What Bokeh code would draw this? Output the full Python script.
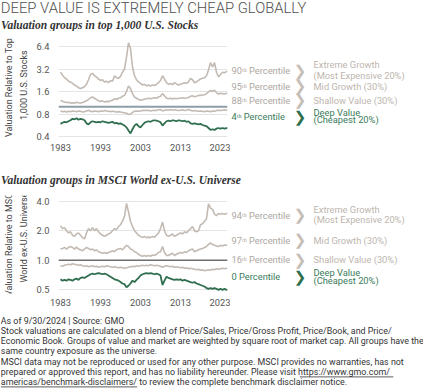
import math
from bokeh.plotting import figure
from bokeh.models import Label, FixedTicker, PrintfTickFormatter, Span, Range1d
from bokeh.layouts import column, row
from bokeh.embed import file_html
from bokeh.resources import INLINE

# ---------------- data ----------------
years = [1983 + 0.5 * i for i in range(84)] + [2024.75]

us_extreme_growth = [
    2.9, 2.65, 2.45, 2.35, 2.2, 2.15, 2.05, 1.95, 1.9, 1.8,
    1.75, 1.8, 1.85, 2.0, 2.3, 2.7, 2.8, 2.6, 2.5, 2.35,
    2.25, 2.3, 2.15, 2.2, 2.1, 2.25, 2.2, 2.6, 2.45, 2.4,
    2.55, 2.9, 3.2, 4.6, 7.2, 6.0, 3.4, 2.6, 2.3, 2.15,
    2.05, 1.95, 2.0, 1.9, 1.95, 1.9, 1.95, 1.92, 2.0, 2.1,
    2.25, 2.6, 2.35, 2.1, 2.0, 2.05, 1.98, 2.1, 2.02, 1.95,
    2.0, 2.05, 2.1, 2.05, 2.15, 2.4, 2.3, 2.1, 2.15, 2.25,
    2.35, 2.4, 2.45, 2.6, 3.1, 3.9, 3.4, 3.9, 2.9, 2.5,
    2.7, 2.9, 2.85, 2.95, 3.0]
us_mid_growth = [
    1.22, 1.18, 1.16, 1.14, 1.15, 1.12, 1.13, 1.12, 1.15, 1.13,
    1.12, 1.14, 1.17, 1.2, 1.25, 1.32, 1.35, 1.3, 1.25, 1.2,
    1.18, 1.2, 1.16, 1.18, 1.17, 1.2, 1.22, 1.28, 1.25, 1.3,
    1.32, 1.38, 1.42, 1.6, 1.9, 1.75, 1.5, 1.35, 1.3, 1.25,
    1.22, 1.24, 1.26, 1.28, 1.3, 1.28, 1.3, 1.32, 1.3, 1.35,
    1.38, 1.5, 1.4, 1.3, 1.28, 1.3, 1.27, 1.3, 1.28, 1.3,
    1.3, 1.32, 1.3, 1.31, 1.33, 1.38, 1.4, 1.36, 1.38, 1.42,
    1.42, 1.44, 1.45, 1.5, 1.58, 1.65, 1.6, 1.66, 1.55, 1.48,
    1.52, 1.5, 1.48, 1.52, 1.5]
us_shallow_value = [
    0.88, 0.86, 0.87, 0.85, 0.87, 0.86, 0.88, 0.87, 0.86, 0.88,
    0.87, 0.85, 0.86, 0.88, 0.9, 0.87, 0.86, 0.88, 0.87, 0.86,
    0.88, 0.87, 0.89, 0.88, 0.87, 0.86, 0.88, 0.86, 0.85, 0.86,
    0.85, 0.84, 0.83, 0.82, 0.79, 0.8, 0.84, 0.87, 0.88, 0.87,
    0.88, 0.89, 0.9, 0.89, 0.9, 0.88, 0.89, 0.9, 0.89, 0.91,
    0.92, 0.88, 0.9, 0.91, 0.9, 0.92, 0.9, 0.91, 0.9, 0.89,
    0.9, 0.91, 0.89, 0.9, 0.92, 0.9, 0.88, 0.89, 0.88, 0.87,
    0.88, 0.87, 0.86, 0.88, 0.87, 0.86, 0.88, 0.87, 0.89, 0.9,
    0.89, 0.9, 0.91, 0.9, 0.9]
us_deep_value = [
    0.59, 0.61, 0.63, 0.62, 0.64, 0.66, 0.69, 0.68, 0.7, 0.67,
    0.69, 0.68, 0.66, 0.6, 0.58, 0.62, 0.64, 0.63, 0.62, 0.63,
    0.62, 0.64, 0.63, 0.62, 0.61, 0.62, 0.63, 0.6, 0.61, 0.59,
    0.6, 0.58, 0.56, 0.53, 0.48, 0.44, 0.5, 0.56, 0.59, 0.55,
    0.53, 0.57, 0.61, 0.63, 0.64, 0.63, 0.65, 0.66, 0.65, 0.64,
    0.62, 0.56, 0.6, 0.64, 0.65, 0.64, 0.66, 0.65, 0.64, 0.66,
    0.65, 0.64, 0.65, 0.63, 0.64, 0.6, 0.59, 0.6, 0.59, 0.58,
    0.59, 0.57, 0.56, 0.55, 0.52, 0.49, 0.5, 0.49, 0.51, 0.52,
    0.51, 0.52, 0.51, 0.52, 0.51]

intl_extreme_growth = [
    2.25, 2.1, 2.15, 2.0, 1.9, 1.95, 1.8, 1.75, 1.85, 1.9,
    1.8, 1.7, 1.65, 1.9, 2.1, 2.0, 2.15, 2.0, 2.1, 1.95,
    1.85, 1.8, 1.75, 1.8, 1.85, 1.9, 2.0, 2.1, 2.05, 2.2,
    2.3, 2.5, 2.8, 3.8, 3.1, 2.5, 2.2, 2.0, 1.9, 1.8,
    1.75, 1.7, 1.75, 1.7, 1.72, 1.7, 1.75, 1.72, 1.8, 1.9,
    2.1, 2.45, 2.0, 1.8, 1.75, 1.8, 1.85, 1.75, 1.8, 1.85,
    1.9, 1.85, 1.95, 1.9, 2.0, 2.1, 2.2, 2.0, 1.95, 2.0,
    2.3, 2.35, 2.5, 2.65, 3.75, 3.4, 3.3, 2.95, 2.85, 3.0,
    2.95, 3.0, 2.95, 3.0, 3.0]
intl_mid_growth = [
    1.3, 1.32, 1.35, 1.3, 1.35, 1.38, 1.35, 1.3, 1.36, 1.3,
    1.28, 1.25, 1.3, 1.35, 1.32, 1.28, 1.3, 1.25, 1.28, 1.22,
    1.2, 1.18, 1.2, 1.17, 1.2, 1.22, 1.25, 1.22, 1.28, 1.3,
    1.32, 1.28, 1.35, 1.42, 1.38, 1.3, 1.28, 1.22, 1.2, 1.15,
    1.12, 1.1, 1.12, 1.1, 1.12, 1.1, 1.13, 1.12, 1.15, 1.2,
    1.22, 1.38, 1.2, 1.12, 1.12, 1.15, 1.18, 1.12, 1.15, 1.18,
    1.2, 1.18, 1.22, 1.2, 1.25, 1.28, 1.3, 1.22, 1.25, 1.28,
    1.3, 1.32, 1.35, 1.38, 1.45, 1.5, 1.45, 1.42, 1.4, 1.38,
    1.42, 1.4, 1.43, 1.42, 1.42]
intl_shallow_value = [
    0.88, 0.87, 0.89, 0.9, 0.91, 0.9, 0.92, 0.91, 0.9, 0.89,
    0.9, 0.88, 0.87, 0.88, 0.86, 0.87, 0.88, 0.86, 0.87, 0.85,
    0.86, 0.87, 0.86, 0.88, 0.87, 0.86, 0.85, 0.86, 0.85, 0.84,
    0.85, 0.84, 0.83, 0.84, 0.85, 0.86, 0.87, 0.86, 0.88, 0.87,
    0.88, 0.89, 0.88, 0.89, 0.88, 0.9, 0.89, 0.88, 0.89, 0.88,
    0.87, 0.85, 0.87, 0.88, 0.87, 0.86, 0.87, 0.85, 0.86, 0.85,
    0.84, 0.85, 0.83, 0.84, 0.82, 0.83, 0.82, 0.81, 0.8, 0.81,
    0.79, 0.8, 0.78, 0.79, 0.8, 0.79, 0.81, 0.8, 0.82, 0.81,
    0.82, 0.83, 0.82, 0.83, 0.83]
intl_deep_value = [
    0.64, 0.62, 0.63, 0.62, 0.64, 0.63, 0.62, 0.64, 0.65, 0.63,
    0.66, 0.67, 0.66, 0.68, 0.70, 0.72, 0.73, 0.72, 0.73, 0.74,
    0.73, 0.72, 0.73, 0.72, 0.7, 0.68, 0.66, 0.64, 0.63, 0.62,
    0.6, 0.58, 0.57, 0.53, 0.55, 0.58, 0.62, 0.6, 0.63, 0.66,
    0.7, 0.72, 0.73, 0.74, 0.73, 0.74, 0.73, 0.72, 0.73, 0.72,
    0.7, 0.56, 0.62, 0.68, 0.66, 0.65, 0.64, 0.63, 0.64, 0.63,
    0.64, 0.62, 0.63, 0.62, 0.61, 0.6, 0.59, 0.6, 0.58, 0.57,
    0.56, 0.55, 0.54, 0.52, 0.51, 0.52, 0.51, 0.52, 0.51, 0.5,
    0.51, 0.5, 0.51, 0.5, 0.5]

year_ticks = [1983, 1993, 2003, 2013, 2023]
us_ticks = [0.4, 0.8, 1.6, 3.2, 6.4]
intl_ticks = [0.5, 1.0, 2.0, 4.0]

title = "DEEP VALUE IS EXTREMELY CHEAP GLOBALLY"
us_subtitle = "Valuation groups in top 1,000 U.S. Stocks"
intl_subtitle = "Valuation groups in MSCI World ex-U.S. Universe"
us_ylabel = ["Valuation Relative to Top", "1,000 U.S. Stocks"]
intl_ylabel = ["Valuation Relative to MSCI", "World ex-U.S. Universe"]
us_pct = ["90\u1d57\u02b0 Percentile", "95\u1d57\u02b0 Percentile", "88\u1d57\u02b0 Percentile", "4\u1d57\u02b0 Percentile"]
intl_pct = ["94\u1d57\u02b0 Percentile", "97\u1d57\u02b0 Percentile", "16\u1d57\u02b0 Percentile", "0 Percentile"]
group_names = [["Extreme Growth", "(Most Expensive 20%)"], ["Mid Growth (30%)"],
               ["Shallow Value (30%)"], ["Deep Value", "(Cheapest 20%)"]]
footnote = [
    "As of 9/30/2024 | Source: GMO",
    "Stock valuations are calculated on a blend of Price/Sales, Price/Gross Profit, Price/Book, and Price/",
    "Economic Book. Groups of value and market are weighted by square root of market cap. All groups have the",
    "same country exposure as the universe.",
    "MSCI data may not be reproduced or used for any other purpose. MSCI provides no warranties, has not",
    "prepared or approved this report, and has no liability hereunder. Please visit https://www.gmo.com/",
    "americas/benchmark-disclaimers/ to review the complete benchmark disclaimer notice.",
]

# ---------------- styling / layout (pixel positions of the page) ----------------
W = 423
SANS = "Roboto"
SERIF = "Liberation Serif"
GROWTH = "#c3bbb3"
PCT_GRAY = "#aea79f"
NAME_GRAY = "#bdb6ae"
GREEN = "#2f6e4e"
GREEN_TXT = "#3a7b5b"
YLAB_W = 31             # width of the y-label strip
FRAME_L, FRAME_R = 58, 227
SIDE_X = 230            # x where the right-hand label block starts


def text_fig(w, h):
    p = figure(width=w, height=h, output_backend="svg", toolbar_location=None,
               x_range=Range1d(0, w), y_range=Range1d(h, 0), min_border=0,
               x_axis_location=None, y_axis_location=None)
    p.grid.visible = False
    p.outline_line_color = None
    p.background_fill_color = "white"
    p.border_fill_color = "white"
    return p


def tlab(p, off, text, X, Y, size, color, font=SANS, style="normal", align="left", angle=0.0):
    ox, oy = off
    p.add_layout(Label(x=X - ox, y=Y - oy, text=text, text_font=font,
                       text_font_size=f"{size}px", text_font_style=style, text_color=color,
                       text_align=align, text_baseline="middle", angle=angle))


def chart_fig(height, top, bottom, lo, hi, ticks, one_color, one_width, standoff):
    p = figure(width=SIDE_X - YLAB_W, height=height, output_backend="svg", toolbar_location=None,
               x_range=Range1d(1982.5, 2024.75), y_range=Range1d(lo, hi), y_axis_type="log",
               min_border_left=FRAME_L - YLAB_W, min_border_right=SIDE_X - FRAME_R,
               min_border_top=top, min_border_bottom=bottom)
    p.outline_line_color = None
    p.background_fill_color = "white"
    p.border_fill_color = "white"
    p.xgrid.visible = False
    p.ygrid.ticker = FixedTicker(ticks=ticks)
    p.ygrid.grid_line_color = "#e4e4e4"
    p.yaxis.ticker = FixedTicker(ticks=ticks)
    p.yaxis.formatter = PrintfTickFormatter(format="%.1f")
    p.xaxis.ticker = FixedTicker(ticks=year_ticks)
    p.xaxis.formatter = PrintfTickFormatter(format="%d")
    for ax in (p.xaxis, p.yaxis):
        ax.axis_line_color = None
        ax.major_tick_line_color = None
        ax.minor_tick_line_color = None
        ax.major_tick_out = 0
        ax.major_tick_in = 0
        ax.minor_tick_out = 0
        ax.minor_tick_in = 0
        ax.major_label_text_font = SANS
        ax.major_label_text_font_size = "9.3px"
        ax.major_label_text_color = "#555555"
    p.yaxis.major_label_standoff = 9
    p.xaxis.major_label_standoff = standoff
    p.add_layout(Span(location=1.0, dimension="width", line_color=one_color, line_width=one_width))
    return p


def side_fig(height, top, pct, rows):
    p = text_fig(W - SIDE_X, height)
    off = (SIDE_X, top)
    for i, (t, y) in enumerate(zip(pct, rows["pct"])):
        deep = i == 3
        tlab(p, off, t, 231, y, 9.3, GREEN_TXT if deep else PCT_GRAY)
        tlab(p, off, "\u276f", 299.5, y, 15, GREEN if deep else "#c6beb6", font="DejaVu Sans",
             style="bold", align="center")
    for i, names in enumerate(group_names):
        for n, y in zip(names, rows["names"][i]):
            tlab(p, off, n, 313, y, 9.3, GREEN_TXT if i == 3 else NAME_GRAY)
    return p


def ylab_fig(height, top, lines, ys):
    p = text_fig(YLAB_W, height)
    for t, X, Y in zip(lines, (8.5, 23.5), ys):
        tlab(p, (0, top), t, X, Y, 9.0, "#444444", align="center", angle=math.pi / 2)
    return p


# ---------------- header ----------------
HEAD_H = 31
head = text_fig(W, HEAD_H)
tlab(head, (0, 0), title, 0.3, 7, 14.8, "#4f4f4f", font="Roboto Light, Roboto")
tlab(head, (0, 0), us_subtitle, 0.5, 24.5, 11.5, "#333333", font=SERIF, style="bold italic")

# ---------------- chart 1: U.S. ----------------
R1_TOP, R1_H = 31, 129
c1 = chart_fig(R1_H, 38 - R1_TOP, R1_TOP + R1_H - 140, 0.3537, 8.19, us_ticks, "#8e9ea7", 2.2, 3)
c1.line(years, us_extreme_growth, line_color=GROWTH, line_width=1.6)
c1.line(years, us_mid_growth, line_color=GROWTH, line_width=1.6)
c1.line(years, us_shallow_value, line_color=GROWTH, line_width=1.6)
c1.line(years, us_deep_value, line_color=GREEN, line_width=1.8)
y1 = ylab_fig(R1_H, R1_TOP, us_ylabel, (93, 90))
s1 = side_fig(R1_H, R1_TOP, us_pct, {"pct": [71.7, 91.7, 109.3, 130],
                                     "names": [[64.3, 77.7], [91.7], [109.3], [124.3, 134]]})

# ---------------- subtitle 2 ----------------
SUB_TOP, SUB_H = 160, 29
sub2 = text_fig(W, SUB_H)
tlab(sub2, (0, SUB_TOP), intl_subtitle, 0.5, 179, 11.5, "#333333", font=SERIF, style="bold italic")

# ---------------- chart 2: MSCI World ex-U.S. ----------------
R2_TOP, R2_H = 189, 121
c2 = chart_fig(R2_H, 195 - R2_TOP, R2_TOP + R2_H - 293, 0.4584, 4.57, intl_ticks, "#6f6f6f", 1.6, 5)
c2.line(years, intl_extreme_growth, line_color=GROWTH, line_width=1.6)
c2.line(years, intl_mid_growth, line_color=GROWTH, line_width=1.6)
c2.line(years, intl_shallow_value, line_color=GROWTH, line_width=1.6)
c2.line(years, intl_deep_value, line_color=GREEN, line_width=1.8)
y2 = ylab_fig(R2_H, R2_TOP, intl_ylabel, (248, 241))
s2 = side_fig(R2_H, R2_TOP, intl_pct, {"pct": [213.3, 244, 268.3, 289.3],
                                       "names": [[206.7, 219], [244], [268.3], [284, 294]]})

# ---------------- footnote ----------------
FOOT_TOP = 310
foot = text_fig(W, 389 - FOOT_TOP)
for line_text, y in zip(footnote, [320, 330.2, 340.2, 350.4, 361.4, 371.6, 381.6]):
    tlab(foot, (0, FOOT_TOP), line_text, 0.3, y, 8.9, "#333333")
# underline of the web address (two line parts)
foot.segment(x0=[299.3, 0.3], y0=[376.4 - FOOT_TOP, 386.4 - FOOT_TOP],
             x1=[392.8, 136.6], y1=[376.4 - FOOT_TOP, 386.4 - FOOT_TOP],
             line_color="#333333", line_width=0.8)

layout = column(head, row(y1, c1, s1, spacing=0), sub2, row(y2, c2, s2, spacing=0), foot, spacing=0)
open("out.html", "w").write(file_html(layout, INLINE))
